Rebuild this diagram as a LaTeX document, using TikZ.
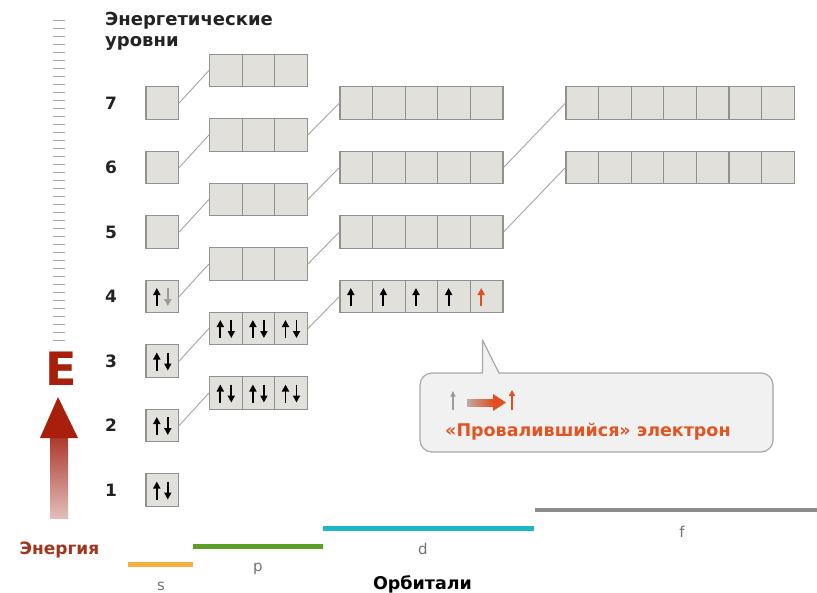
\documentclass[tikz,border=0pt]{standalone}
\usepackage{fontspec}
\setmainfont{DejaVu Sans}
\usetikzlibrary{arrows.meta}
\definecolor{cellfill}{RGB}{226,224,219}
\definecolor{cellline}{RGB}{145,145,142}
\definecolor{connline}{RGB}{165,165,165}
\definecolor{tickgray}{RGB}{165,165,165}
\definecolor{titlecol}{RGB}{35,35,35}
\definecolor{ecol}{RGB}{168,32,12}
\definecolor{eshafttop}{RGB}{172,55,42}
\definecolor{eshaftbot}{RGB}{226,190,185}
\definecolor{energycol}{RGB}{160,52,28}
\definecolor{redel}{RGB}{226,78,32}
\definecolor{grayel}{RGB}{155,155,155}
\definecolor{sbar}{RGB}{242,176,62}
\definecolor{pbar}{RGB}{92,160,40}
\definecolor{dbar}{RGB}{28,184,200}
\definecolor{fbar}{RGB}{140,140,140}
\definecolor{barlabel}{RGB}{115,115,115}
\definecolor{callfill}{RGB}{241,241,241}
\definecolor{callline}{RGB}{168,168,168}
\definecolor{calltext}{RGB}{226,84,34}
\definecolor{shaftgray}{RGB}{190,170,160}
\newcommand{\orbrow}[4]{%
  \foreach \k in {1,...,#4}{%
    \node[cell] (#1-\k) at ({#2+(\k-0.5)*32.6},{#3}) {};
  }}
\newcommand{\eup}[3]{\draw[elec,#3] ([xshift=#2pt,yshift=-9.5pt]#1.center) -- ([xshift=#2pt,yshift=8.5pt]#1.center);}
\newcommand{\edn}[3]{\draw[elec,#3] ([xshift=#2pt,yshift=8.5pt]#1.center) -- ([xshift=#2pt,yshift=-9.5pt]#1.center);}
\newcommand{\epair}[1]{\eup{#1}{-5.5}{black}\edn{#1}{5.5}{black}}
\begin{document}
\begin{tikzpicture}[x=1pt,y=-1pt,
  every node/.style={inner sep=0pt},
  cell/.style={draw=cellline, fill=cellfill, line width=1.2pt, minimum width=32.6pt, minimum height=32.5pt},
  conn/.style={draw=connline, line width=0.9pt},
  elec/.style={line width=1.9pt, -{Triangle[length=7pt,width=7pt]}},
  lvl/.style={font=\fontsize{17}{20}\selectfont\bfseries, text=titlecol},
  barlab/.style={font=\fontsize{15}{17}\selectfont, text=barlabel, anchor=base},
  bar/.style={line width=5pt}]
\fill[white] (0,0) rectangle (817,592);
\useasboundingbox (0,0) rectangle (817,592);

% ruler
\foreach \i in {0,...,40}{\draw[tickgray, line width=1pt] (53,{20+8*\i}) -- (65,{20+8*\i});}

% title
\node[anchor=north west, align=left, font=\fontsize{18}{21}\selectfont\bfseries, text=titlecol] (title) at (105,11.5) {Энергетические\\уровни};

% level numbers
\foreach \n in {1,...,7}{\node[lvl] (n\n) at (111,{490-(\n-1)*64.5}) {\n};}

% s orbitals
\foreach \n in {1,...,7}{\orbrow{s\n}{146}{490-(\n-1)*64.5}{1}}
% p orbitals
\foreach \n in {2,...,7}{\orbrow{p\n}{209.5}{457.5-(\n-1)*64.5}{3}}
% d orbitals
\foreach \n in {3,...,6}{\orbrow{d\n}{340}{490-\n*64.5}{5}}
% f orbitals
\foreach \n in {4,5}{\orbrow{f\n}{566}{490-(\n+1)*64.5}{7}}

% connectors
\foreach \n in {2,...,7}{\draw[conn] (s\n-1.east) -- (p\n-1.west);}
\foreach \n in {3,...,6}{\draw[conn] (p\n-3.east) -- (d\n-1.west);}
\foreach \n in {4,5}{\draw[conn] (d\n-5.east) -- (f\n-1.west);}

% electrons
\epair{s1-1}\epair{s2-1}\epair{s3-1}
\eup{s4-1}{-5.5}{black}\edn{s4-1}{5.5}{grayel}
\foreach \k in {1,2,3}{\epair{p2-\k}\epair{p3-\k}}
\foreach \k in {1,...,4}{\eup{d3-\k}{-5.5}{black}}
\eup{d3-5}{-5.5}{redel}

% E and arrow
\node[font=\fontsize{46}{46}\selectfont\bfseries, text=ecol] (E) at (61,368.5) {E};
\shade[top color=eshafttop, bottom color=eshaftbot] (50,436) rectangle (68,518);
\fill[ecol] (58,397) -- (78,438) -- (40,438) -- cycle;
\node[font=\fontsize{17}{19}\selectfont\bfseries, text=energycol, anchor=base] (energy) at (59.5,554) {Энергия};

% bars
\draw[bar, sbar] (128,564) -- (193,564);
\draw[bar, pbar] (193,546.5) -- (323,546.5);
\draw[bar, dbar] (323,528) -- (534,528);
\draw[bar, fbar, line width=4.5pt] (535,510) -- (817,510);
\node[barlab] (ls) at (161,590) {s};
\node[barlab] (lp) at (258,571) {p};
\node[barlab] (ld) at (423,554) {d};
\node[barlab] (lf) at (682,537) {f};
\node[font=\fontsize{17.5}{20}\selectfont\bfseries, text=black, anchor=base] (orb) at (422.5,589) {Орбитали};

% callout
\node[draw=callline, fill=callfill, line width=1.2pt, rounded corners=12pt, minimum width=353pt, minimum height=79pt] (co) at (596.5,412.5) {};
\fill[callfill] (482.5,374.6) -- (482.5,340) -- (499,374.6) -- cycle;
\draw[callline, line width=1.2pt, line join=round] (482.5,373) -- (482.5,340) -- (499,373);
\draw[grayel, line width=1.4pt, -{Triangle[length=5.5pt,width=5pt]}] (453,410) -- (453,391);
\shade[left color=shaftgray, right color=redel] (467,399) rectangle (494,406);
\fill[redel] (493,394) -- (506,402.5) -- (493,411) -- cycle;
\draw[redel, line width=1.7pt, -{Triangle[length=6pt,width=6pt]}] (512,410) -- (512,390);
\node[font=\fontsize{17.5}{20}\selectfont\bfseries, text=calltext, anchor=base west] (ctext) at (445,436.5) {«Провалившийся» электрон};
\end{tikzpicture}
\end{document}
